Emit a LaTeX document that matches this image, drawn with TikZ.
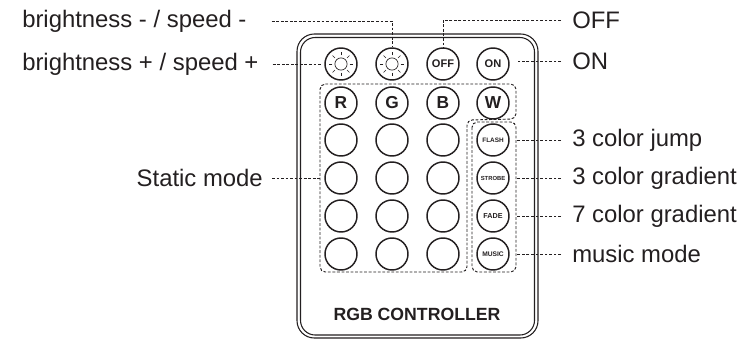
\documentclass[tikz,border=0pt]{standalone}
\usepackage{fontspec}
\usetikzlibrary{calc}
\setmainfont{Liberation Sans}
\definecolor{ink}{HTML}{231F20}
\tikzset{
  btn/.style={circle,draw=ink,line width=1.1pt,minimum size=24pt,inner sep=0pt,text=ink,font=\bfseries},
  big/.style={btn,font=\fontsize{13}{13}\selectfont\bfseries},
  mid/.style={btn,font=\fontsize{8.3}{9}\selectfont\bfseries},
  tiny/.style={btn,font=\fontsize{#1}{6}\selectfont\bfseries},
  lab/.style={text=ink,font=\fontsize{17.9}{19}\selectfont,inner sep=0pt},
  dashline/.style={draw=ink,line width=0.7pt,dash pattern=on 2.1pt off 1.3pt},
  ray/.style={draw=ink,line width=0.5pt},
}
\begin{document}
\begin{tikzpicture}[x=0.75pt,y=-0.75pt]
\useasboundingbox (0,0) rectangle (755,339);
% body
\draw[ink,line width=0.8pt,rounded corners=13pt] (297,338) rectangle (538,34);
\draw[ink,line width=0.8pt,rounded corners=11pt] (300.5,335) rectangle (534.5,37.5);
% buttons
\node[btn] (s1) at (341,64) {};
\node[btn] (s2) at (392,64) {};
\node[mid] (off) at (443,64) {OFF};
\node[mid] (on) at (493,64) {ON};
\foreach \n in {s1,s2}{
  \draw[ray] (\n.center) circle[radius=4.6pt];
  \foreach \a in {0,45,...,315}
    \draw[ray] ($(\n.center)+(\a:6.4pt)$) -- ($(\n.center)+(\a:9pt)$);
}
\node[big] (r) at (341,103) {R};
\node[big] (g) at (392,103) {G};
\node[big] (b) at (443,103) {B};
\node[big] (w) at (493,103) {W};
\foreach \y/\i in {140/1,178/2,216/3,254/4}{
  \node[btn] (a\i) at (341,\y) {};
  \node[btn] (c\i) at (392,\y) {};
  \node[btn] (d\i) at (443,\y) {};
}
\node[tiny=4.8] (flash) at (493,140) {FLASH};
\node[tiny=4.4] (strobe) at (493,178) {STROBE};
\node[tiny=5.4] (fade) at (493,216) {FADE};
\node[tiny=5] (music) at (493,254) {MUSIC};
% groups
\draw[dashline,rounded corners=4pt] (320,84) -- (516,84) -- (516,119) -- (467,120) -- (467,272) -- (320,272) -- cycle;
\draw[dashline,rounded corners=4pt] (472,122) rectangle (516,272);
% labels
\node[lab,anchor=west] (lbm) at (22,21) {brightness - / speed -};
\node[lab,anchor=west] (lbp) at (22,64) {brightness + / speed +};
\node[lab,anchor=west] (loff) at (572,20) {OFF};
\node[lab,anchor=west] (lon) at (572,61) {ON};
\node[lab,anchor=east] (lst) at (263,178) {Static mode};
\node[lab,anchor=west] (l1) at (572,140) {3 color jump};
\node[lab,anchor=west] (l2) at (572,178) {3 color gradient};
\node[lab,anchor=west] (l3) at (572,216) {7 color gradient};
\node[lab,anchor=west] (l4) at (572,254) {music mode};
% free ends of the connectors
\coordinate (gl) at (320,178);
\coordinate (e1) at (321,64);
\coordinate (e2) at (518,61);
\coordinate (g1) at (517,140);
\coordinate (g2) at (517,178);
\coordinate (g3) at (517,216);
\coordinate (g4) at (517,254);
% connectors
\draw[dashline] ($(lbm.east)+(25,0)$) -| (s2.north);
\draw[dashline] ($(lbp.east)+(14,0)$) -- (e1);
\draw[dashline] ($(loff.west)+(-11,0)$) -| (off.north);
\draw[dashline] ($(lon.west)+(-11,0)$) -- (e2);
\draw[dashline] ($(lst.east)+(9,0)$) -- (gl);
\draw[dashline] ($(l1.west)+(-11,0)$) -- (g1);
\draw[dashline] ($(l2.west)+(-11,0)$) -- (g2);
\draw[dashline] ($(l3.west)+(-11,0)$) -- (g3);
\draw[dashline] ($(l4.west)+(-11,0)$) -- (g4);
% title
\node[text=ink,inner sep=0pt,font=\fontsize{13.25}{14}\selectfont\bfseries] (title) at (417,314) {RGB CONTROLLER};
\end{tikzpicture}
\end{document}
